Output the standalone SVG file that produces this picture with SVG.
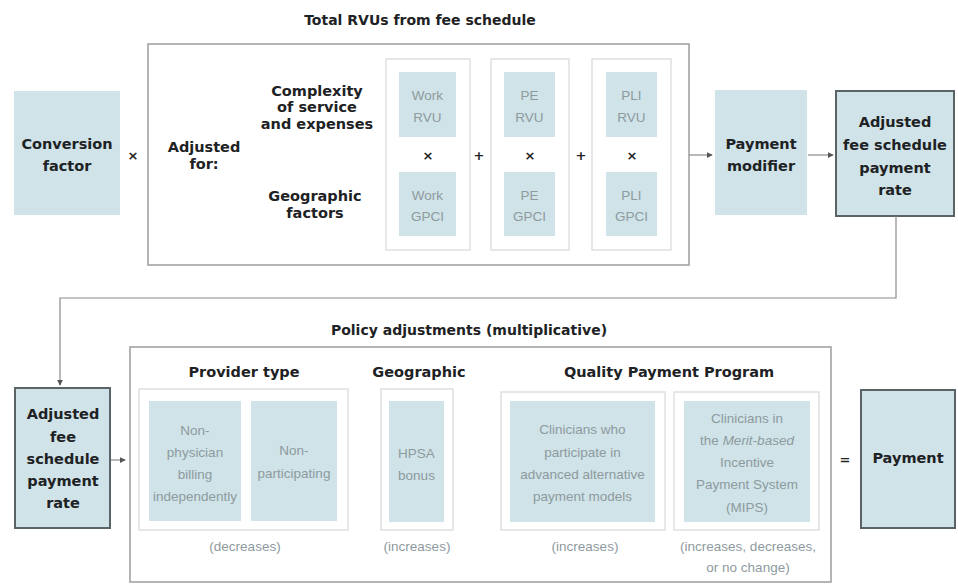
<svg xmlns="http://www.w3.org/2000/svg" width="958" height="588" viewBox="0 0 958 588">
  <defs>
    <style>
      .bold { font-family: "DejaVu Sans", "Liberation Sans", sans-serif; font-weight: bold; fill: #1e2224; text-anchor: middle; font-size: 14.5px; }
      .title { font-size: 14px; }
      .light { font-family: "Liberation Sans", Arial, sans-serif; fill: #8e9a9e; text-anchor: middle; font-size: 13.5px; }
      .fill { fill: #cfe3e8; }
      .key { fill: #cfe3e8; stroke: #5a6366; stroke-width: 2; }
      .frame { fill: #ffffff; stroke: #a3a3a3; stroke-width: 1.6; }
      .group { fill: #ffffff; stroke: #e2e2e2; stroke-width: 1.6; }
      .op { font-family: "DejaVu Sans", sans-serif; font-weight: bold; fill: #222; text-anchor: middle; font-size: 13px; }
      .conn { fill: none; stroke: #8a8a8a; stroke-width: 1.2; }
    </style>
    <marker id="arrow" viewBox="0 0 8 8" refX="7" refY="4" markerWidth="5" markerHeight="5" orient="auto">
      <path d="M0,0 L8,4 L0,8 z" fill="#555"/>
    </marker>
  </defs>
  <rect width="958" height="588" fill="#ffffff"/>

  <!-- Upper section: fee schedule rate -->
  <text class="bold title" x="420" y="25">Total RVUs from fee schedule</text>
  <rect class="frame" x="148" y="44" width="541" height="221"/>

  <g id="conversion-factor">
    <rect class="fill" x="14" y="91" width="106" height="124"/>
    <text class="bold" x="67" y="149">Conversion</text>
    <text class="bold" x="67" y="171">factor</text>
  </g>
  <text class="op" x="133" y="160">×</text>

  <g id="adjusted-for">
    <text class="bold" x="204" y="152">Adjusted</text>
    <text class="bold" x="204" y="169">for:</text>
  </g>
  <g id="complexity">
    <text class="bold" x="317" y="96">Complexity</text>
    <text class="bold" x="317" y="112">of service</text>
    <text class="bold" x="317" y="129">and expenses</text>
  </g>
  <g id="geographic-factors">
    <text class="bold" x="315" y="201">Geographic</text>
    <text class="bold" x="315" y="218">factors</text>
  </g>

  <g id="work">
    <rect class="group" x="386" y="59" width="84" height="191"/>
    <rect class="fill" x="399" y="72" width="57" height="65"/>
    <text class="light" x="427.5" y="100">Work</text>
    <text class="light" x="427.5" y="122">RVU</text>
    <text class="op" x="428" y="160">×</text>
    <rect class="fill" x="399" y="172" width="57" height="64"/>
    <text class="light" x="427.5" y="200">Work</text>
    <text class="light" x="427.5" y="221">GPCI</text>
  </g>
  <text class="op" x="479" y="160">+</text>

  <g id="pe">
    <rect class="group" x="491" y="59" width="78" height="191"/>
    <rect class="fill" x="504" y="72" width="51" height="65"/>
    <text class="light" x="529.5" y="100">PE</text>
    <text class="light" x="529.5" y="122">RVU</text>
    <text class="op" x="530" y="160">×</text>
    <rect class="fill" x="504" y="172" width="51" height="64"/>
    <text class="light" x="529.5" y="200">PE</text>
    <text class="light" x="529.5" y="221">GPCI</text>
  </g>
  <text class="op" x="581" y="160">+</text>

  <g id="pli">
    <rect class="group" x="592" y="59" width="79" height="191"/>
    <rect class="fill" x="606" y="72" width="51" height="65"/>
    <text class="light" x="631.5" y="100">PLI</text>
    <text class="light" x="631.5" y="122">RVU</text>
    <text class="op" x="632" y="160">×</text>
    <rect class="fill" x="606" y="172" width="51" height="64"/>
    <text class="light" x="631.5" y="200">PLI</text>
    <text class="light" x="631.5" y="221">GPCI</text>
  </g>

  <g id="payment-modifier">
    <rect class="fill" x="715" y="90" width="92" height="125"/>
    <text class="bold" x="761" y="149">Payment</text>
    <text class="bold" x="761" y="171">modifier</text>
  </g>

  <g id="adjusted-rate-top">
    <rect class="key" x="836" y="91" width="118" height="125"/>
    <text class="bold" x="895" y="127">Adjusted</text>
    <text class="bold" x="895" y="150">fee schedule</text>
    <text class="bold" x="895" y="173">payment</text>
    <text class="bold" x="895" y="195">rate</text>
  </g>

  <!-- Lower section: policy adjustments -->
  <text class="bold title" x="469" y="335">Policy adjustments (multiplicative)</text>
  <rect class="frame" x="130" y="347" width="701" height="235"/>

  <g id="adjusted-rate-bottom">
    <rect class="key" x="15" y="388" width="95" height="140"/>
    <text class="bold" x="63" y="419">Adjusted</text>
    <text class="bold" x="63" y="442">fee</text>
    <text class="bold" x="63" y="464">schedule</text>
    <text class="bold" x="63" y="486">payment</text>
    <text class="bold" x="63" y="508">rate</text>
  </g>

  <g id="provider-type">
    <text class="bold" x="244" y="377">Provider type</text>
    <rect class="group" x="139" y="389" width="209" height="141"/>
    <rect class="fill" x="149" y="401" width="92" height="120"/>
    <text class="light" x="195" y="435">Non-</text>
    <text class="light" x="195" y="457">physician</text>
    <text class="light" x="195" y="479">billing</text>
    <text class="light" x="195" y="501">independently</text>
    <rect class="fill" x="251" y="401" width="86" height="120"/>
    <text class="light" x="294" y="455">Non-</text>
    <text class="light" x="294" y="478">participating</text>
    <text class="light" x="245" y="551">(decreases)</text>
  </g>

  <g id="geographic">
    <text class="bold" x="419" y="377">Geographic</text>
    <rect class="group" x="381" y="389" width="72" height="141"/>
    <rect class="fill" x="389" y="401" width="55" height="121"/>
    <text class="light" x="416.5" y="458">HPSA</text>
    <text class="light" x="416.5" y="480">bonus</text>
    <text class="light" x="417" y="551">(increases)</text>
  </g>

  <g id="quality-payment-program">
    <text class="bold" x="669" y="377">Quality Payment Program</text>
    <rect class="group" x="501" y="392" width="164" height="138"/>
    <rect class="fill" x="510" y="401" width="145" height="121"/>
    <text class="light" x="582.5" y="434">Clinicians who</text>
    <text class="light" x="582.5" y="457">participate in</text>
    <text class="light" x="582.5" y="479">advanced alternative</text>
    <text class="light" x="582.5" y="501">payment models</text>
    <text class="light" x="585" y="551">(increases)</text>
    <rect class="group" x="674" y="392" width="145" height="138"/>
    <rect class="fill" x="684" y="401" width="126" height="121"/>
    <text class="light" x="747" y="423">Clinicians in</text>
    <text class="light" x="747" y="445">the <tspan font-style="italic">Merit-based</tspan></text>
    <text class="light" x="747" y="467">Incentive</text>
    <text class="light" x="747" y="489">Payment System</text>
    <text class="light" x="747" y="512">(MIPS)</text>
    <text class="light" x="748" y="551">(increases, decreases,</text>
    <text class="light" x="748" y="572">or no change)</text>
  </g>

  <text class="op" x="845" y="464">=</text>

  <g id="payment">
    <rect class="key" x="861" y="390" width="94" height="138"/>
    <text class="bold" x="908" y="463">Payment</text>
  </g>

  <!-- Connectors -->
  <g id="connectors">
    <line class="conn" x1="689" y1="155" x2="712" y2="155" marker-end="url(#arrow)"/>
    <line class="conn" x1="808" y1="155" x2="833" y2="155" marker-end="url(#arrow)"/>
    <path class="conn" d="M896,216 V298 H60 V385" marker-end="url(#arrow)"/>
    <line class="conn" x1="111" y1="460" x2="125" y2="460" marker-end="url(#arrow)"/>
  </g>
</svg>
